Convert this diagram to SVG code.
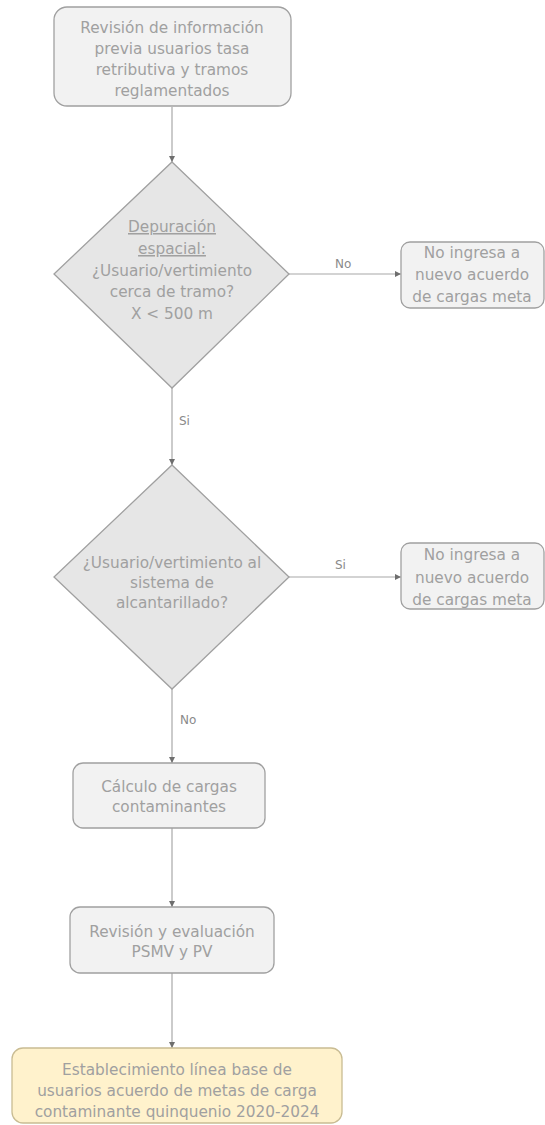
<svg xmlns="http://www.w3.org/2000/svg" width="545" height="1125" viewBox="0 0 545 1125">
<defs>
<marker id="ah" viewBox="0 0 10 10" refX="10" refY="5" markerWidth="6" markerHeight="6" orient="auto" markerUnits="userSpaceOnUse">
<path d="M0,0 L10,5 L0,10 z" fill="#6e6e6e"/>
</marker>
<style>
.box{fill:#f2f2f2;stroke:#a0a0a0;stroke-width:1.3}
.dia{fill:#e6e6e6;stroke:#a0a0a0;stroke-width:1.3}
.fin{fill:#fff2cc;stroke:#c9bc93;stroke-width:1.3}
.t{font-family:"DejaVu Sans",sans-serif;font-size:15.3px;fill:#a0a0a0;text-anchor:middle}
.lbl{font-family:"DejaVu Sans",sans-serif;font-size:12px;fill:#8a8a8a}
.c{fill:none;stroke:#a8a8a8;stroke-width:1.2;marker-end:url(#ah)}
</style>
</defs>
<rect width="545" height="1125" fill="#ffffff"/>
<g id="connectors">
<path class="c" d="M172,107 L172,162"/>
<path class="c" d="M172,388 L172,465"/>
<path class="c" d="M289,274 L401,274"/>
<path class="c" d="M172,689 L172,763"/>
<path class="c" d="M289,577 L401,577"/>
<path class="c" d="M172,828 L172,907"/>
<path class="c" d="M172,973 L172,1048"/>
<text class="lbl" x="335" y="268">No</text>
<text class="lbl" x="179" y="425">Si</text>
<text class="lbl" x="335" y="569">Si</text>
<text class="lbl" x="180" y="724">No</text>
</g>
<g id="n1">
<rect class="box" x="54" y="7" width="237" height="99" rx="13"/>
<text class="t" x="172" y="33">Revisión de información</text>
<text class="t" x="172" y="54">previa usuarios tasa</text>
<text class="t" x="172" y="75">retributiva y tramos</text>
<text class="t" x="172" y="96">reglamentados</text>
</g>
<g id="d1">
<polygon class="dia" points="172,162 289,274 172,388 54,274"/>
<text class="t" x="172" y="232" text-decoration="underline">Depuración</text>
<text class="t" x="172" y="254" text-decoration="underline">espacial:</text>
<text class="t" x="172" y="276">¿Usuario/vertimiento</text>
<text class="t" x="172" y="297">cerca de tramo?</text>
<text class="t" x="172" y="319">X &lt; 500 m</text>
</g>
<g id="n2">
<rect class="box" x="401" y="242" width="143" height="66" rx="9"/>
<text class="t" x="472" y="258">No ingresa a</text>
<text class="t" x="472" y="280">nuevo acuerdo</text>
<text class="t" x="472" y="302">de cargas meta</text>
</g>
<g id="d2">
<polygon class="dia" points="172,465 289,577 172,689 54,577"/>
<text class="t" x="172" y="568">¿Usuario/vertimiento al</text>
<text class="t" x="172" y="588">sistema de</text>
<text class="t" x="172" y="608">alcantarillado?</text>
</g>
<g id="n3">
<rect class="box" x="401" y="543" width="143" height="66" rx="9"/>
<text class="t" x="472" y="560">No ingresa a</text>
<text class="t" x="472" y="583">nuevo acuerdo</text>
<text class="t" x="472" y="605">de cargas meta</text>
</g>
<g id="n4">
<rect class="box" x="73" y="763" width="192" height="65" rx="10"/>
<text class="t" x="169" y="792">Cálculo de cargas</text>
<text class="t" x="169" y="812">contaminantes</text>
</g>
<g id="n5">
<rect class="box" x="70" y="907" width="204" height="66" rx="10"/>
<text class="t" x="172" y="937">Revisión y evaluación</text>
<text class="t" x="172" y="957">PSMV y PV</text>
</g>
<g id="n6">
<rect class="fin" x="12" y="1048" width="330" height="75" rx="11"/>
<text class="t" x="177" y="1075">Establecimiento línea base de</text>
<text class="t" x="177" y="1096">usuarios acuerdo de metas de carga</text>
<text class="t" x="177" y="1117">contaminante quinquenio 2020-2024</text>
</g>
</svg>
